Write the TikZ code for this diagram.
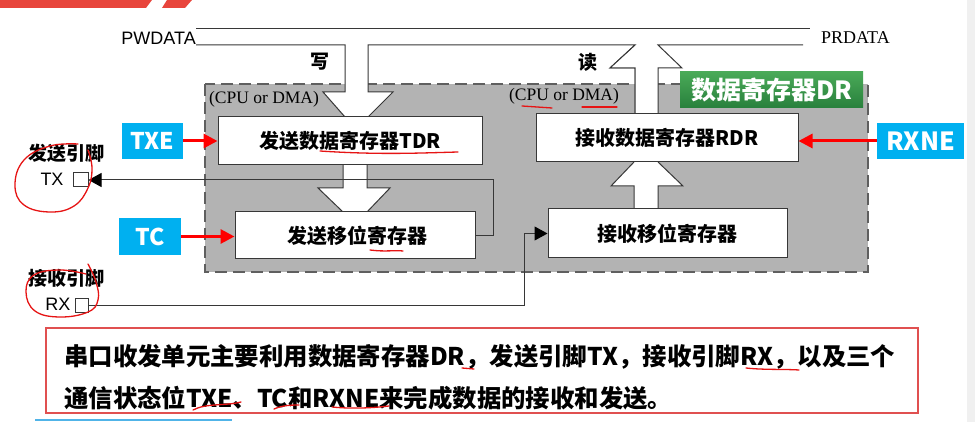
\documentclass[tikz,border=0pt]{standalone}
\usepackage{fontspec}
\setmainfont{Liberation Serif}
\newfontfamily\cjk{Noto Sans CJK SC}
\newfontfamily\arial{Liberation Sans}
\usetikzlibrary{arrows.meta}
\definecolor{regray}{RGB}{179,179,179}
\definecolor{edge}{RGB}{55,55,55}
\definecolor{skyb}{RGB}{0,176,240}
\definecolor{annred}{RGB}{230,20,20}
\definecolor{boxred}{RGB}{224,80,80}
\definecolor{hdrred}{RGB}{232,69,60}
\definecolor{gtop}{RGB}{74,170,88}
\definecolor{gbot}{RGB}{40,128,60}
\tikzset{
  reg/.style={draw=edge, line width=1pt, fill=white, inner sep=0pt, font=\cjk\bfseries\fontsize{20}{22}\selectfont},
  flag/.style={fill=skyb, inner sep=0pt, text=white, font=\cjk\bfseries\fontsize{23}{25}\selectfont},
  redarrow/.style={draw=red, line width=3pt, -{Triangle[length=14pt,width=14pt]}},
  pin/.style={draw=edge, line width=1pt, fill=white, inner sep=0pt, minimum width=14pt, minimum height=14pt},
  wire/.style={draw=edge, line width=1pt},
  wiretip/.style={-{Triangle[length=13pt,width=14pt,fill=black,color=black]}},
  blockarrow/.style={draw=edge, line width=1pt},
  ann/.style={draw=annred, line width=1.3pt, line cap=round},
  pinlabel/.style={inner sep=0pt, font=\cjk\bfseries\fontsize{19}{21}\selectfont},
  latinlabel/.style={inner sep=0pt, font=\arial\fontsize{18}{20}\selectfont},
  serif/.style={inner sep=0pt, font=\fontsize{17.5}{20}\selectfont},
  body/.style={inner sep=0pt, anchor=west, font=\cjk\bfseries\fontsize{24.4}{26}\selectfont}
}
\begin{document}
\begin{tikzpicture}[x=1pt,y=-1pt]
\useasboundingbox (0,0) rectangle (975,422);
% slide header fragments and right strip
\fill[hdrred] (0,0) -- (152,0) -- (146,8) -- (0,8) -- cycle;
\fill[hdrred] (167,0) -- (192,0) -- (185,8) -- (162,8) -- cycle;
\fill[black!6] (967,0) rectangle (975,422);
\draw[color={rgb,255:red,80;green,180;blue,232}, line width=1.5pt] (35,420) -- (232,420);

% gray region
\draw[fill=regray, draw=edge!80, line width=1.4pt, dash pattern=on 12pt off 6pt] (205,84) rectangle (868,272);

% buses
\node[latinlabel, anchor=east] (pw) at (196,38) {PWDATA};
\node[serif, anchor=west, font=\fontsize{18}{20}\selectfont] (pr) at (821,38) {PRDATA};
\draw[wire] (pw.east |- 0,29) -- (810,29);

% write arrow (bus -> TDR)
\fill[white] (345,45) -- (345,92) -- (323,92) -- (345,117) -- (368,117) -- (393,92) -- (368,92) -- (368,45) -- cycle;
\draw[blockarrow] (pw.east |- 0,45) -- (345,45) -- (345,92) -- (323,92) -- (345,117);
\draw[blockarrow] (368,117) -- (393,92) -- (368,92) -- (368,45) -- (635,45) -- (610,68) -- (635,68) -- (635,114);
\fill[white] (635,46) -- (610,68) -- (635,68) -- (635,114) -- (658,114) -- (658,68) -- (682,68) -- (658,46) -- cycle;
\draw[blockarrow] (635,45) -- (610,68) -- (635,68) -- (635,114);
\draw[blockarrow] (658,114) -- (658,68) -- (682,68) -- (658,45) -- (803,45);

\node[pinlabel] (xie) at (320,62) {写};
\node[pinlabel] (du) at (588,62) {读};
\node[serif] (cpu1) at (264,99) {(CPU or DMA)};
\node[serif] (cpu2) at (564,96) {(CPU or DMA)};

% green label
\node[top color=gtop, bottom color=gbot, inner sep=0pt, minimum width=183pt, minimum height=36pt, text=white, font=\cjk\bfseries\fontsize{25}{27}\selectfont] (dr) at (771.5,90) {数据寄存器DR};

% internal block arrows
\fill[white] (343,165) -- (343,188) -- (318,188) -- (343,212) -- (367,212) -- (390,188) -- (367,188) -- (367,165) -- cycle;
\draw[blockarrow] (343,165) -- (343,188) -- (318,188) -- (343,212);
\draw[blockarrow] (367,212) -- (390,188) -- (367,188) -- (367,165);
\fill[white] (634,209) -- (634,186) -- (611,186) -- (634,162) -- (658,162) -- (683,186) -- (658,186) -- (658,209) -- cycle;
\draw[blockarrow] (634,209) -- (634,186) -- (611,186) -- (634,162);
\draw[blockarrow] (658,162) -- (683,186) -- (658,186) -- (658,209);

% registers
\node[reg, minimum width=264pt, minimum height=48pt] (tdr) at (350,141) {发送数据寄存器TDR};
\node[reg, minimum width=240pt, minimum height=47pt] (tsr) at (355,235.5) {\hspace{4pt}发送移位寄存器};
\node[reg, minimum width=262pt, minimum height=48pt] (rdr) at (667,138) {接收数据寄存器RDR};
\node[reg, minimum width=239pt, minimum height=49pt] (rsr) at (667.5,233.5) {接收移位寄存器};

% pins
\node[pinlabel] (txname) at (66,153) {发送引脚};
\node[latinlabel] (txl) at (52,179) {TX};
\node[pin, minimum width=15pt] (txpin) at (80.5,180) {};
\node[pinlabel] (rxname) at (66,278) {接收引脚};
\node[latinlabel] (rxl) at (58,304) {RX};
\node[pin, minimum width=13pt] (rxpin) at (81.5,305) {};

% wires
\draw[wire, wiretip] (tsr.east) -- ++(18,0) |- (txpin.east);
\draw[wire, wiretip] (rxpin.east) -| ([xshift=-23pt]rsr.west) -- (rsr.west);

% flags
\node[flag, minimum width=61pt, minimum height=36pt] (txe) at (152.5,141) {TXE};
\node[flag, minimum width=62pt, minimum height=37pt] (tc) at (150,236.5) {TC};
\node[flag, minimum width=87pt, minimum height=36pt, font=\cjk\bfseries\fontsize{25}{27}\selectfont] (rxne) at (920.5,141) {RXNE};
\draw[redarrow] (txe.east) -- (txe.east -| tdr.west);
\draw[redarrow] (tc.east) -- (tc.east -| tsr.west);
\draw[redarrow] (rxne.west) -- (rxne.west -| rdr.east);

% summary box
\node[draw=boxred, line width=2.2pt, minimum width=872pt, minimum height=85pt, inner sep=0pt] (sumbox) at (482,370.5) {};
\node[body] (l1) at (64,357) {串口收发单元主要利用数据寄存器DR，发送引脚TX，接收引脚RX，以及三个};
\node[body] (l2) at (64,398) {通信状态位TXE、TC和RXNE来完成数据的接收和发送。};

% hand annotations
\draw[ann] (320,151) .. controls (380,155) and (420,153) .. (458,152);
\draw[ann] (370,250) .. controls (385,252) and (395,250) .. (403,251);
\draw[ann] (522,106) -- (552,108);
\draw[ann] (582,107) -- (617,107);
\draw[ann] plot[smooth, tension=0.7] coordinates {(78,144) (50,146) (24,160) (15,185) (24,205) (50,212) (74,206) (88,188) (92,168) (88,150)};
\draw[ann] plot[smooth, tension=0.7] coordinates {(88,264) (96,282) (98,300) (88,312) (60,317) (35,311) (26,292) (34,275) (60,270) (86,274)};
\draw[ann] (462,368) -- (474,369);
\draw[ann] (746,368) .. controls (764,370) and (784,369) .. (799,370);
\draw[ann] (193,410) .. controls (206,403) and (226,406) .. (241,402);
\draw[ann] (274,409) .. controls (283,405) and (293,405) .. (299,405);
\draw[ann] (332,407) .. controls (352,409) and (372,408) .. (389,406);
\end{tikzpicture}
\end{document}
